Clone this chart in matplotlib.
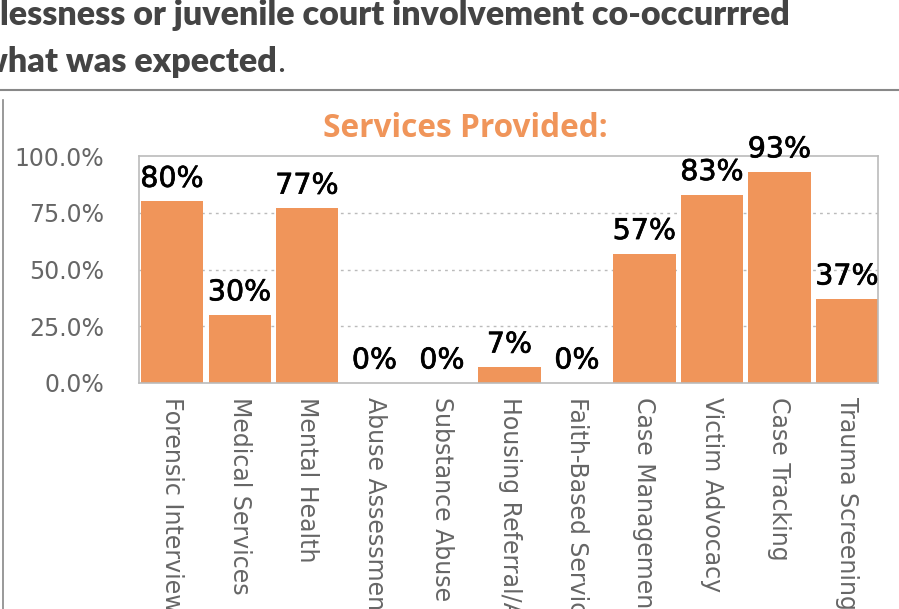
import matplotlib.pyplot as plt
from matplotlib.lines import Line2D
from matplotlib.text import Annotation
import matplotlib.patheffects as pe

# Services provided to cases, share of cases receiving each service
services = ["Forensic Interview", "Medical Services", "Mental Health",
            "Abuse Assessment", "Substance Abuse Treatment",
            "Housing Referral/Assistance", "Faith-Based Services",
            "Case Management", "Victim Advocacy", "Case Tracking",
            "Trauma Screening"]
pct = [80, 30, 77, 0, 0, 7, 0, 57, 83, 93, 37]
yticks = [0, 25, 50, 75, 100]

orange = "#F0955A"
W, H = 899, 609

fig = plt.figure(figsize=(W / 100, H / 100), dpi=100)
fig.patch.set_facecolor("white")

# heading text above the chart (continues from the text before it)
head = dict(fontsize=24.5, fontweight="heavy", color="#444444", family="Lato",
            va="baseline", ha="left")
fig.text(0 / W, 1 - 25 / H, "lessness or juvenile court involvement co-occurrred", **head)
t2 = fig.text(-20 / W, 1 - 72 / H, "what was expected", **head)
fig.add_artist(Annotation(".", xy=(1, 0), xycoords=t2, va="bottom", ha="left",
                          fontsize=24.5, color="#444444", family="Lato"))

# divider rule and left border
fig.add_artist(Line2D([0, 1], [1 - 90 / H, 1 - 90 / H], color="#888888",
                      lw=1.5, transform=fig.transFigure))
fig.add_artist(Line2D([3 / W, 3 / W], [0, 1 - 100 / H], color="#888888",
                      lw=1.2, transform=fig.transFigure))

ax = fig.add_axes([139 / W, 1 - 383 / H, (878 - 139) / W, (383 - 156) / H])
x = range(len(services))
ax.bar(x, pct, width=0.92, color=orange, zorder=2)
ax.set_xlim(-0.49, 10.46)
ax.set_ylim(0, 100)

for xi, v in zip(x, pct):
    ax.annotate(f"{v}%", (xi, v), xytext=(0, 10.5), textcoords="offset points",
                ha="center", va="baseline", fontsize=20.5, family="DejaVu Sans",
                color="black", annotation_clip=False,
                path_effects=[pe.withStroke(linewidth=0.5, foreground="black")])

ax.set_yticks(yticks)
ax.set_yticklabels([f"{t:.1f}%" for t in yticks], fontsize=17,
                   color="#666666", family="DejaVu Sans")
ax.set_xticks(list(x))
ax.set_xticklabels(services, rotation=270, fontsize=17, color="#666666",
                   family="DejaVu Sans", va="top", ha="center")
ax.tick_params(axis="both", length=0)
ax.tick_params(axis="y", pad=25)
ax.tick_params(axis="x", pad=10)

for t in [25, 50, 75]:
    ax.axhline(t, color="#bbbbbb", lw=1, ls=(0, (2, 3)), zorder=1)
for s in ax.spines.values():
    s.set_color("#bbbbbb")
    s.set_linewidth(1.2)

fig.text(465 / W, 1 - 137 / H, "Services Provided:", fontsize=22.8,
         fontweight="bold", color=orange, family="Open Sans",
         ha="center", va="baseline")

fig.savefig("out.png", dpi=100)
